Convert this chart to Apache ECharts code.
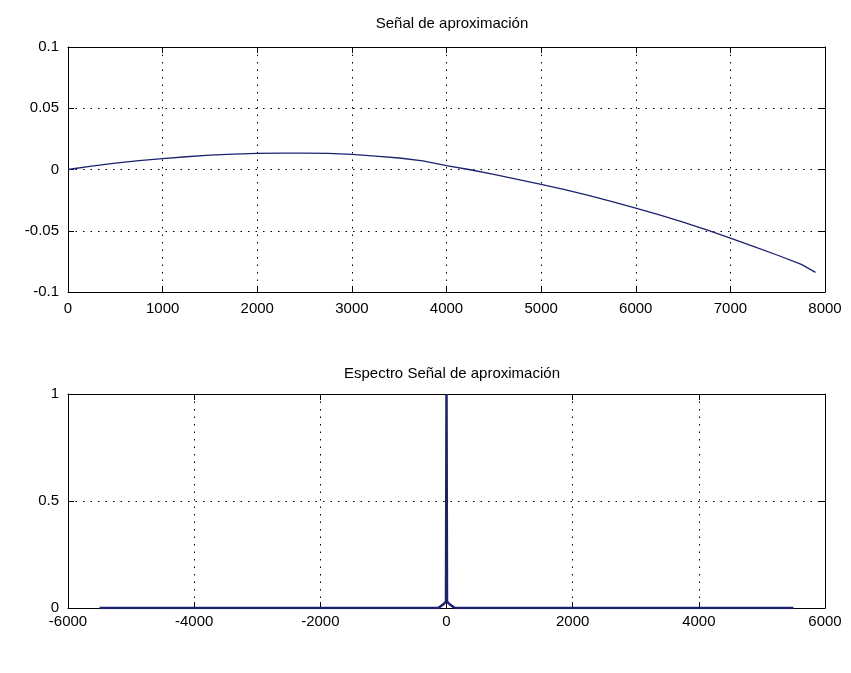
<!DOCTYPE html>
<html>
<head>
<meta charset="utf-8">
<script src="https://cdn.jsdelivr.net/npm/echarts@6/dist/echarts.min.js"></script>
<style>
html,body{margin:0;padding:0;background:#fff;}
#c{width:851px;height:673px;}
</style>
</head>
<body>
<div id="c"></div>
<script>
// Top panel: approximation signal
var titleTop = 'Señal de aproximación';
var titleBottom = 'Espectro Señal de aproximación';
var approxX = [0, 250, 500, 750, 1000, 1250, 1500, 1750, 2000, 2250, 2500, 2750, 3000, 3250, 3500, 3750, 4000, 4250, 4500, 4750, 5000, 5250, 5500, 5750, 6000, 6250, 6500, 6750, 7000, 7250, 7500, 7750, 7900];
var approxY = [0.0, 0.0028, 0.0052, 0.0072, 0.0088, 0.0104, 0.0117, 0.0126, 0.0132, 0.0134, 0.0134, 0.0132, 0.0123, 0.0110, 0.0094, 0.0070, 0.0032, -0.0002, -0.0040, -0.0080, -0.0122, -0.0165, -0.0212, -0.0262, -0.0315, -0.0370, -0.0430, -0.0492, -0.0560, -0.0630, -0.0700, -0.0775, -0.0840];
// Bottom panel: spectrum
var specX = [-5500, -130, -60, -8, 0, 8, 60, 130, 5500];
var specY = [0, 0, 0.015, 0.03, 1, 0.03, 0.015, 0, 0];
var topXTicks = {min: 0, max: 8000, interval: 1000};
var topYTicks = {min: -0.1, max: 0.1, interval: 0.05};
var botXTicks = {min: -6000, max: 6000, interval: 2000};
var botYTicks = {min: 0, max: 1, interval: 0.5};

function pairs(xs, ys){ return xs.map(function(x,i){ return [x, ys[i]]; }); }

var lineColor = '#1c2170';
var font = 'Liberation Sans, Arial, sans-serif';
var dotted = {color:'#000', width:1, type:[1.5,6]};
function plain(v){ return String(v); }

function mkX(idx, t, pos, labels, margin){
  return {type:'value', gridIndex:idx, position:pos, min:t.min, max:t.max, interval:t.interval,
    axisLine:{show:true, onZero:false, lineStyle:{color:'#000', width:1}},
    axisTick:{show:true, inside:true, length:6, lineStyle:{color:'#000'}},
    axisLabel:{show:labels, margin:margin, color:'#000', fontSize:15, fontFamily:font, formatter:plain, showMinLabel:true, showMaxLabel:true},
    splitLine:{show:labels, lineStyle:dotted}};
}
function mkY(idx, t, pos, labels){
  return {type:'value', gridIndex:idx, position:pos, min:t.min, max:t.max, interval:t.interval,
    axisLine:{show:true, onZero:false, lineStyle:{color:'#000', width:1}},
    axisTick:{show:true, inside:true, length:6, lineStyle:{color:'#000'}},
    axisLabel:{show:labels, margin:9, color:'#000', fontSize:15, fontFamily:font, formatter:plain, showMinLabel:true, showMaxLabel:true},
    splitLine:{show:labels, lineStyle:dotted}};
}

var chart = echarts.init(document.getElementById('c'), null, {renderer:'canvas'});
chart.setOption({
  backgroundColor:'#fff',
  animation:false,
  title:[
    {text:titleTop, left:447, top:11, textAlign:'center', textStyle:{fontWeight:'normal', fontSize:15, color:'#000', fontFamily:font}},
    {text:titleBottom, left:447, top:361, textAlign:'center', textStyle:{fontWeight:'normal', fontSize:15, color:'#000', fontFamily:font}}
  ],
  grid:[
    {left:68, right:26, top:47, height:245},
    {left:68, right:26, top:394, height:214}
  ],
  xAxis:[mkX(0, topXTicks, 'bottom', true, 9), mkX(0, topXTicks, 'top', false, 6),
         mkX(1, botXTicks, 'bottom', true, 6), mkX(1, botXTicks, 'top', false, 6)],
  yAxis:[mkY(0, topYTicks, 'left', true), mkY(0, topYTicks, 'right', false),
         mkY(1, botYTicks, 'left', true), mkY(1, botYTicks, 'right', false)],
  series:[
    {type:'line', xAxisIndex:0, yAxisIndex:0, data:pairs(approxX, approxY), showSymbol:false, lineStyle:{color:lineColor, width:1.3}},
    {type:'line', xAxisIndex:2, yAxisIndex:2, data:pairs(specX, specY), showSymbol:false, lineStyle:{color:lineColor, width:2.5}}
  ]
});
</script>
</body>
</html>
